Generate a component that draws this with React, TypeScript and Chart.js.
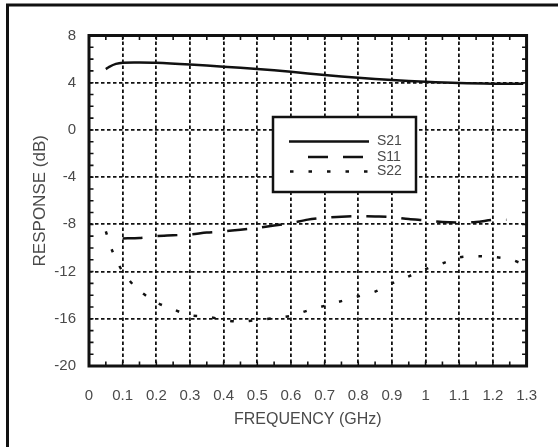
import React, { useEffect, useRef } from "react";
import { Chart, registerables } from "chart.js";

Chart.register(...registerables);

const s21Freq = [0.05, 0.06, 0.08, 0.1, 0.15, 0.2, 0.3, 0.4, 0.5, 0.6, 0.7, 0.8, 0.9, 1.0, 1.1, 1.2, 1.29];
const s21Values = [5.15, 5.35, 5.6, 5.7, 5.72, 5.7, 5.55, 5.36, 5.16, 4.93, 4.65, 4.42, 4.23, 4.08, 3.97, 3.92, 3.92];

const s11Freq = [0.1, 0.15, 0.2, 0.25, 0.3, 0.35, 0.4, 0.45, 0.5, 0.55, 0.6, 0.65, 0.7, 0.75, 0.8, 0.85, 0.9, 0.95, 1.0, 1.05, 1.1, 1.15, 1.2, 1.24];
const s11Values = [-9.2, -9.15, -9.0, -8.93, -8.85, -8.7, -8.6, -8.45, -8.3, -8.1, -7.9, -7.6, -7.45, -7.35, -7.3, -7.33, -7.38, -7.55, -7.66, -7.8, -7.85, -7.8, -7.62, -7.6];

const s22Freq = [0.05, 0.07, 0.1, 0.145, 0.2, 0.25, 0.3, 0.35, 0.4, 0.45, 0.5, 0.55, 0.6, 0.65, 0.7, 0.75, 0.8, 0.85, 0.9, 0.95, 1.0, 1.05, 1.1, 1.15, 1.2, 1.25, 1.28];
const s22Values = [-8.6, -10.3, -12.0, -13.5, -14.6, -15.2, -15.7, -15.8, -16.1, -16.25, -16.1, -15.95, -15.75, -15.3, -14.9, -14.5, -14.1, -13.7, -13.0, -12.4, -11.8, -11.3, -10.8, -10.7, -10.75, -10.95, -11.25];

const seriesLabels = ["S21", "S11", "S22"];
const xTitle = "FREQUENCY (GHz)";
const yTitle = "RESPONSE (dB)";
const xMin = 0, xMax = 1.3, xStep = 0.1, xMinorStep = 0.05;
const yMin = -20, yMax = 8, yStep = 4, yMinorStep = 1;

const FONT = "'Liberation Sans', Arial, Helvetica, sans-serif";
const TEXT = "#4a4a4a";

const toPts = (xs: number[], ys: number[]) => xs.map((x, i) => ({ x, y: ys[i] }));

const framePlugin = {
  id: "framePlugin",
  beforeDraw(chart: any) {
    const ctx = chart.ctx;
    ctx.save();
    ctx.fillStyle = "#fff";
    ctx.fillRect(0, 0, chart.width, chart.height);
    ctx.strokeStyle = "#111";
    ctx.lineWidth = 3;
    ctx.beginPath();
    ctx.moveTo(7.5, chart.height + 5);
    ctx.lineTo(7.5, 5);
    ctx.lineTo(chart.width + 5, 5);
    ctx.stroke();
    ctx.restore();
  },
  afterDatasetsDraw(chart: any) {
    const ctx = chart.ctx;
    const ca = chart.chartArea;
    const xs = chart.scales.x;
    const ys = chart.scales.y;
    ctx.save();
    ctx.strokeStyle = "#111";
    ctx.lineWidth = 1.6;
    ctx.beginPath();
    for (let v = yMin; v <= yMax + 1e-9; v += yMinorStep) {
      const p = ys.getPixelForValue(v);
      ctx.moveTo(ca.left, p); ctx.lineTo(ca.left + 4.5, p);
      ctx.moveTo(ca.right, p); ctx.lineTo(ca.right - 4.5, p);
    }
    for (let v = xMin; v <= xMax + 1e-9; v += xMinorStep) {
      const p = xs.getPixelForValue(v);
      ctx.moveTo(p, ca.bottom); ctx.lineTo(p, ca.bottom - 4.5);
      ctx.moveTo(p, ca.top); ctx.lineTo(p, ca.top + 4.5);
    }
    ctx.stroke();
    ctx.lineWidth = 3;
    ctx.strokeRect(ca.left, ca.top, ca.right - ca.left, ca.bottom - ca.top);

    // legend box
    const bx = ca.left + 184, by = ca.top + 81.5, bw = 143, bh = 75;
    ctx.fillStyle = "#fff";
    ctx.fillRect(bx, by, bw, bh);
    ctx.lineWidth = 2.5;
    ctx.strokeRect(bx, by, bw, bh);
    const rows = [
      { y: by + 24.5, x1: bx + 16, x2: bx + 96 },
      { y: by + 40, x1: bx + 35, x2: bx + 96 },
      { y: by + 54.5, x1: bx + 17, x2: bx + 97 },
    ];
    chart.data.datasets.forEach((ds: any, i: number) => {
      const r = rows[i];
      ctx.save();
      ctx.strokeStyle = ds.borderColor;
      ctx.lineWidth = ds.borderWidth;
      ctx.lineCap = "butt";
      ctx.setLineDash(ds.borderDash || []);
      ctx.beginPath();
      ctx.moveTo(r.x1, r.y);
      ctx.lineTo(r.x2, r.y);
      ctx.stroke();
      ctx.restore();
      ctx.fillStyle = TEXT;
      ctx.font = `14px ${FONT}`;
      ctx.textBaseline = "middle";
      ctx.textAlign = "left";
      ctx.fillText(ds.label, bx + 104, r.y);
    });
    ctx.restore();
  },
};

export default function App() {
  const ref = useRef<HTMLCanvasElement | null>(null);
  useEffect(() => {
    if (!ref.current) return;
    const chart = new Chart(ref.current, {
      type: "line",
      data: {
        datasets: [
          { label: seriesLabels[0], data: toPts(s21Freq, s21Values), borderColor: "#111", borderWidth: 2.5, pointRadius: 0, tension: 0.35, fill: false },
          { label: seriesLabels[1], data: toPts(s11Freq, s11Values), borderColor: "#111", borderWidth: 2.5, borderDash: [20, 15], pointRadius: 0, tension: 0.3, fill: false },
          { label: seriesLabels[2], data: toPts(s22Freq, s22Values), borderColor: "#111", borderWidth: 2.5, borderDash: [3.5, 15], pointRadius: 0, tension: 0.3, fill: false },
        ],
      },
      options: {
        responsive: false,
        animation: false,
        layout: { padding: { left: 8, right: 27, top: 35.5, bottom: 0 } },
        plugins: { legend: { display: false }, tooltip: { enabled: false } },
        scales: {
          x: {
            type: "linear",
            min: xMin,
            max: xMax,
            afterFit: (s: any) => { s.height = 81; },
            ticks: {
              stepSize: xStep,
              autoSkip: false,
              maxRotation: 0,
              padding: 21,
              color: TEXT,
              font: { family: FONT, size: 15 },
              callback: (v: any) => String(Number(Number(v).toFixed(1))),
            },
            grid: { color: "#111", lineWidth: 1.8, drawTicks: false },
            border: { display: false, dash: [3.5, 2.5] },
            title: { display: true, text: xTitle, color: TEXT, font: { family: FONT, size: 16 }, padding: { top: 0, bottom: 18 } },
          },
          y: {
            type: "linear",
            min: yMin,
            max: yMax,
            afterFit: (s: any) => { s.width = 81; },
            ticks: {
              stepSize: yStep,
              autoSkip: false,
              padding: 13,
              color: TEXT,
              font: { family: FONT, size: 15 },
            },
            grid: { color: "#111", lineWidth: 1.8, drawTicks: false },
            border: { display: false, dash: [3.5, 2.5] },
            title: { display: true, text: yTitle, color: TEXT, font: { family: FONT, size: 17 }, padding: { top: 22, bottom: 0 } },
          },
        },
      },
      plugins: [framePlugin],
    } as any);
    return () => chart.destroy();
  }, []);
  return (
    <div style={{ position: "fixed", left: 0, top: 0, width: 558, height: 447 }}>
      <canvas ref={ref} width={558} height={447} style={{ display: "block" }} />
    </div>
  );
}
